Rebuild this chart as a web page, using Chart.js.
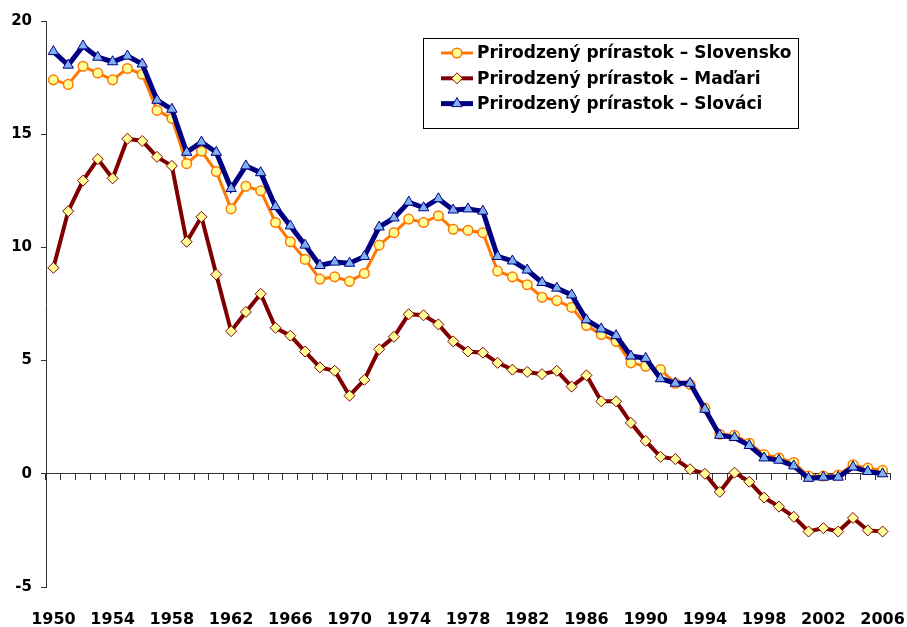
<!DOCTYPE html>
<html>
<head>
<meta charset="utf-8">
<script src="https://cdn.jsdelivr.net/npm/chart.js@4"></script>
<style>
  body { margin: 0; background: #fff; }
  canvas { display: block; }
</style>
</head>
<body>
<canvas id="chartPrirastok" width="907" height="627"></canvas>
<script>
var roky = ["1950", "1951", "1952", "1953", "1954", "1955", "1956", "1957", "1958", "1959",
    "1960", "1961", "1962", "1963", "1964", "1965", "1966", "1967", "1968", "1969",
    "1970", "1971", "1972", "1973", "1974", "1975", "1976", "1977", "1978", "1979",
    "1980", "1981", "1982", "1983", "1984", "1985", "1986", "1987", "1988", "1989",
    "1990", "1991", "1992", "1993", "1994", "1995", "1996", "1997", "1998", "1999",
    "2000", "2001", "2002", "2003", "2004", "2005", "2006"];

var slovensko = [17.4, 17.2, 18.0, 17.7, 17.4, 17.9, 17.65, 16.05, 15.7, 13.7,
    14.25, 13.35, 11.7, 12.7, 12.5, 11.1, 10.25, 9.47, 8.6, 8.7,
    8.5, 8.85, 10.1, 10.65, 11.25, 11.1, 11.4, 10.8, 10.75, 10.65,
    8.95, 8.7, 8.35, 7.8, 7.65, 7.35, 6.55, 6.15, 5.85, 4.9,
    4.75, 4.6, 4.0, 3.95, 2.9, 1.75, 1.7, 1.35, 0.85, 0.7,
    0.5, -0.1, -0.1, -0.05, 0.4, 0.25, 0.15];

var madari = [9.1, 11.6, 12.95, 13.9, 13.05, 14.8, 14.7, 14.0, 13.6, 10.25,
    11.35, 8.8, 6.3, 7.15, 7.95, 6.45, 6.1, 5.4, 4.7, 4.55,
    3.45, 4.15, 5.5, 6.05, 7.05, 7.0, 6.6, 5.85, 5.4, 5.35,
    4.9, 4.6, 4.5, 4.4, 4.55, 3.85, 4.35, 3.2, 3.2, 2.25,
    1.45, 0.75, 0.65, 0.2, 0.0, -0.8, 0.05, -0.35, -1.05, -1.45,
    -1.9, -2.55, -2.4, -2.55, -1.95, -2.5, -2.55];

var slovaci = [18.65, 18.05, 18.9, 18.4, 18.2, 18.45, 18.1, 16.5, 16.1, 14.2,
    14.65, 14.2, 12.6, 13.6, 13.3, 11.8, 10.95, 10.1, 9.2, 9.35,
    9.3, 9.6, 10.9, 11.3, 12.0, 11.75, 12.15, 11.65, 11.7, 11.6,
    9.6, 9.4, 9.0, 8.45, 8.2, 7.9, 6.8, 6.4, 6.1, 5.2,
    5.1, 4.2, 4.0, 4.0, 2.85, 1.7, 1.6, 1.25, 0.7, 0.6,
    0.35, -0.2, -0.15, -0.15, 0.3, 0.1, 0.0];

var yTicks = [-5, 0, 5, 10, 15, 20];

Chart.defaults.font.family = 'DejaVu Sans';
Chart.defaults.font.weight = 'bold';
Chart.defaults.color = '#000';

// legenda v ramceku vo vnutri grafu
var legendaBox = {
    id: 'legendaBox',
    afterDraw: function (chart) {
        var ctx = chart.ctx;
        ctx.save();
        ctx.fillStyle = '#fff';
        ctx.fillRect(423.5, 38.5, 375, 90);
        ctx.strokeStyle = '#000';
        ctx.lineWidth = 1;
        ctx.strokeRect(423.5, 38.5, 375, 90);
        ctx.font = 'bold 17px "DejaVu Sans"';
        ctx.textBaseline = 'middle';
        chart.data.datasets.forEach(function (ds, i) {
            var y = 53 + i * 25.3;
            ctx.strokeStyle = ds.borderColor;
            ctx.lineWidth = ds.borderWidth;
            ctx.beginPath();
            ctx.moveTo(441, y);
            ctx.lineTo(473, y);
            ctx.stroke();
            ctx.fillStyle = ds.pointBackgroundColor;
            ctx.strokeStyle = ds.pointBorderColor;
            ctx.lineWidth = ds.pointBorderWidth;
            var r = ds.pointRadius, cx = 457;
            ctx.beginPath();
            if (ds.pointStyle === 'circle') {
                ctx.arc(cx, y, r, 0, Math.PI * 2);
            } else if (ds.pointStyle === 'rectRot') {
                ctx.moveTo(cx, y - r);
                ctx.lineTo(cx + r, y);
                ctx.lineTo(cx, y + r);
                ctx.lineTo(cx - r, y);
            } else {
                ctx.moveTo(cx, y - r);
                ctx.lineTo(cx + r * 0.866, y + r / 2);
                ctx.lineTo(cx - r * 0.866, y + r / 2);
            }
            ctx.closePath();
            ctx.fill();
            ctx.stroke();
            ctx.fillStyle = '#000';
            ctx.fillText(ds.label, 477, y + 1);
        });
        ctx.restore();
    }
};

var prirastok = document.getElementById('chartPrirastok').getContext('2d');
var chart = new Chart(prirastok, {
    type: 'line',
    data: {
        labels: roky,
        datasets: [{
            label: "Prirodzený prírastok – Slovensko",
            data: slovensko,
            borderColor: '#ff7700',
            borderWidth: 3,
            pointStyle: 'circle',
            pointRadius: 4.8,
            pointBackgroundColor: '#ffff99',
            pointBorderColor: '#ff7700',
            pointBorderWidth: 1.5,
            tension: 0,
            order: 3
        }, {
            label: "Prirodzený prírastok – Maďari",
            data: madari,
            borderColor: '#800000',
            borderWidth: 4,
            pointStyle: 'rectRot',
            pointRadius: 5.5,
            pointBackgroundColor: '#ffff99',
            pointBorderColor: '#800000',
            pointBorderWidth: 1,
            tension: 0,
            order: 2
        }, {
            label: "Prirodzený prírastok – Slováci",
            data: slovaci,
            borderColor: '#000080',
            borderWidth: 5,
            pointStyle: 'triangle',
            pointRadius: 6,
            pointBackgroundColor: '#80b0f0',
            pointBorderColor: '#000080',
            pointBorderWidth: 1,
            tension: 0,
            order: 1
        }]
    },
    options: {
        responsive: false,
        animation: false,
        devicePixelRatio: 1,
        layout: { padding: { top: 21, right: 17, bottom: 0, left: 0 } },
        plugins: {
            legend: { display: false },
            tooltip: { enabled: false }
        },
        scales: {
            x: {
                type: 'category',
                position: 'bottom',
                offset: true,
                grid: { display: false, drawTicks: false, tickLength: 0 },
                border: { display: false },
                ticks: {
                    autoSkip: false,
                    maxRotation: 0,
                    padding: 23,
                    font: { size: 16, weight: 'bold' },
                    callback: function (value, index) {
                        return index % 4 === 0 ? roky[index] : '';
                    }
                },
                afterFit: function (scale) {
                    scale.height = 40;
                    scale.paddingLeft = 0;
                    scale.paddingRight = 0;
                }
            },
            x2: {
                type: 'category',
                position: { y: 0 },
                offset: true,
                grid: { offset: true, drawOnChartArea: false, drawTicks: true, tickLength: 6, color: '#333' },
                border: { display: true, color: '#333', width: 1 },
                ticks: { display: false, autoSkip: false },
                afterFit: function (scale) {
                    scale.paddingLeft = 0;
                    scale.paddingRight = 0;
                }
            },
            y: {
                min: yTicks[0],
                max: yTicks[yTicks.length - 1],
                grid: { drawOnChartArea: false, drawTicks: true, tickLength: 5, color: '#333' },
                border: { display: true, color: '#333', width: 1 },
                ticks: {
                    stepSize: 5,
                    padding: 9,
                    font: { size: 15, weight: 'bold' }
                },
                afterFit: function (scale) {
                    scale.width = 46;
                    scale.paddingTop = 0;
                    scale.paddingBottom = 0;
                }
            }
        }
    },
    plugins: [legendaBox]
});
</script>
</body>
</html>
